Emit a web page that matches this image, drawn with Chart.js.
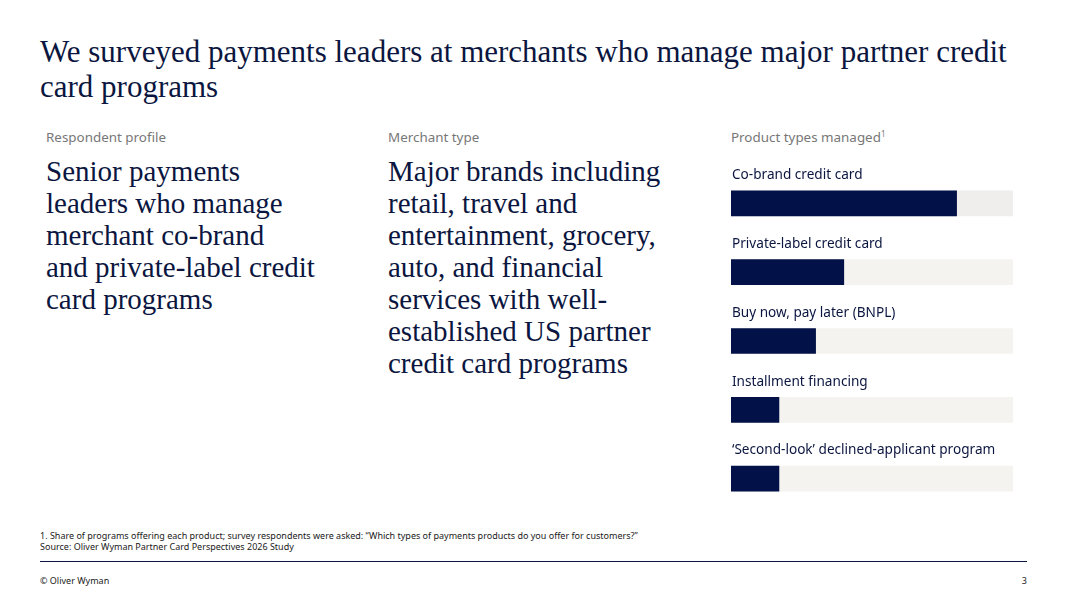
<!DOCTYPE html>
<html>
<head>
<meta charset="utf-8">
<script src="https://cdn.jsdelivr.net/npm/chart.js"></script>
<style>
  html, body { margin: 0; padding: 0; background: #fff; }
  body { width: 1067px; height: 600px; position: relative; overflow: hidden; color: #0b1640; }
  .title { position: absolute; left: 40px; top: 34px; font-family: "Liberation Serif", serif; font-size: 31px; line-height: 35px; color: #0b1640; white-space: nowrap; }
  .kicker { position: absolute; top: 128px; font-family: "Noto Sans", sans-serif; font-size: 13.4px; color: #777; }
  .kicker sup { font-size: 8px; vertical-align: 5px; }
  .big { position: absolute; top: 155px; font-family: "Liberation Serif", serif; font-size: 29px; line-height: 32px; color: #0b1640; white-space: nowrap; }
  .foot { position: absolute; left: 40px; font-family: "Noto Sans", sans-serif; font-size: 9px; line-height: 11px; color: #1a1a1a; white-space: nowrap; }
  .rule { position: absolute; left: 40px; top: 561px; width: 987px; height: 1px; background: #0b1640; }
  .copy { position: absolute; left: 40px; top: 574px; font-family: "Noto Sans", sans-serif; font-size: 9px; color: #1a1a1a; }
  .page { position: absolute; right: 40px; top: 574px; font-family: "Noto Sans", sans-serif; font-size: 9px; color: #1a1a1a; }
  #wrap { position: absolute; left: 731px; top: 155px; width: 282px; height: 370px; }
</style>
</head>
<body>
<div class="title">We surveyed payments leaders at merchants who manage major partner credit<br>card programs</div>

<div class="kicker" style="left:46px">Respondent profile</div>
<div class="big" style="left:46px">Senior payments<br>leaders who manage<br>merchant co-brand<br>and private-label credit<br>card programs</div>

<div class="kicker" style="left:388px">Merchant type</div>
<div class="big" style="left:388px">Major brands including<br>retail, travel and<br>entertainment, grocery,<br>auto, and financial<br>services with well-<br>established US partner<br>credit card programs</div>

<div class="kicker" style="left:731px">Product types managed<sup>1</sup></div>
<div id="wrap"><canvas id="chart"></canvas></div>

<div class="foot" style="top:530px">1. Share of programs offering each product; survey respondents were asked: “Which types of payments products do you offer for customers?”</div>
<div class="foot" style="top:541px">Source: Oliver Wyman Partner Card Perspectives 2026 Study</div>
<div class="rule"></div>
<div class="copy">© Oliver Wyman</div>
<div class="page">3</div>

<script>
// Données (part des programmes, %)
const products = [
  'Co-brand credit card',
  'Private-label credit card',
  'Buy now, pay later (BNPL)',
  'Installment financing',
  '‘Second-look’ declined-applicant program'
];
const shares = [80, 40, 30, 17, 17];
const trackMax = [100, 100, 100, 100, 100];

// libellés au-dessus de chaque barre
const labelsAbove = {
  id: 'labelsAbove',
  afterDatasetsDraw(chart) {
    const { ctx, scales: { y } } = chart;
    ctx.save();
    ctx.font = '13.6px "Noto Sans", sans-serif';
    ctx.fillStyle = '#0b1640';
    ctx.textBaseline = 'middle';
    ctx.textAlign = 'left';
    products.forEach((p, i) => {
      ctx.fillText(p, chart.chartArea.left + 1, y.getPixelForValue(i) - 28);
    });
    ctx.restore();
  }
};

new Chart(document.getElementById('chart'), {
  type: 'bar',
  data: {
    labels: products,
    datasets: [
      { data: shares, backgroundColor: '#021148', barThickness: 25, order: 0 },
      { data: trackMax, backgroundColor: ['#efeeed', '#f5f3ef', '#f5f3ef', '#f5f3ef', '#f5f3ef'], barThickness: 25, order: 1 }
    ]
  },
  options: {
    indexAxis: 'y',
    responsive: true,
    maintainAspectRatio: false,
    animation: false,
    layout: { padding: { top: 14, bottom: 12, left: 0, right: 0 } },
    datasets: { bar: { grouped: false } },
    scales: {
      x: { display: false, min: 0, max: 100 },
      y: { display: false }
    },
    plugins: { legend: { display: false }, tooltip: { enabled: false } }
  },
  plugins: [labelsAbove]
});
</script>
</body>
</html>
